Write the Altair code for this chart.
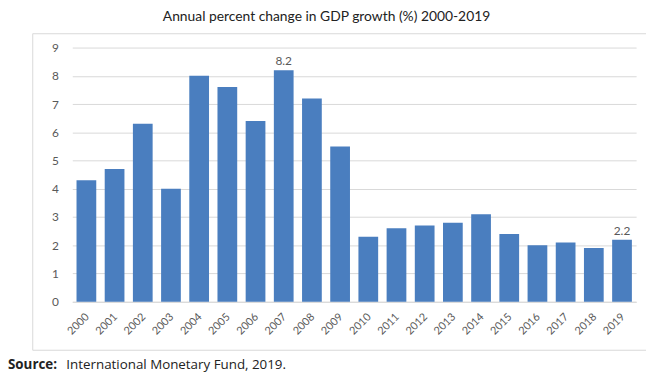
import altair as alt
import pandas as pd

years = [str(y) for y in range(2000, 2020)]
growth = [4.3, 4.7, 6.3, 4.0, 8.0, 7.6, 6.4, 8.2, 7.2, 5.5,
          2.3, 2.6, 2.7, 2.8, 3.1, 2.4, 2.0, 2.1, 1.9, 2.2]
labelled_years = ["2007", "2019"]
y_ticks = list(range(0, 10))
source_bold = "Source:"
source_text = "International Monetary Fund, 2019."
title_text = "Annual percent change in GDP growth (%) 2000-2019"

df = pd.DataFrame({"year": years, "growth": growth})
df["label"] = [f"{v:.1f}" if y in labelled_years else "" for y, v in zip(years, growth)]
one = pd.DataFrame({"k": [0]})

FONT = "Lato"
BLUE = "#4A7EBF"
W, H = 570, 257

x = alt.X("year:N", sort=years, title=None,
          scale=alt.Scale(paddingInner=0.3, paddingOuter=0.15),
          axis=alt.Axis(labelAngle=-45, labelFontSize=11, labelColor="#595959",
                        labelFont=FONT, ticks=False, domainColor="#d9d9d9",
                        labelPadding=9, labelOffset=-3))
y = alt.Y("growth:Q", title=None,
          scale=alt.Scale(domain=[0, 9], nice=False),
          axis=alt.Axis(values=y_ticks, labelFontSize=12, labelColor="#595959",
                        labelFont=FONT, ticks=False, domain=False,
                        gridColor="#d9d9d9", labelPadding=14))

frame = alt.Chart(one).mark_rect(fill="transparent", stroke="#d9d9d9", strokeWidth=1).encode(
    x=alt.value(-40), x2=alt.value(W + 40), y=alt.value(-14), y2=alt.value(H + 49)
)

bars = alt.Chart(df).mark_bar(color=BLUE).encode(x=x, y=y)

labels = alt.Chart(df).transform_filter(alt.datum.label != "").mark_text(
    dy=-9, fontSize=12, color="#595959", font=FONT
).encode(x=x, y=y, text="label:N")

src_bold = alt.Chart(one).mark_text(
    align="left", baseline="middle", fontSize=13.5, fontWeight="bold", color="#222222", font="Open Sans"
).encode(x=alt.value(-65), y=alt.value(H + 64), text=alt.value(source_bold))

src = alt.Chart(one).mark_text(
    align="left", baseline="middle", fontSize=13.5, color="#222222", font="Open Sans"
).encode(x=alt.value(-6), y=alt.value(H + 64), text=alt.value(source_text))

chart = alt.layer(frame, bars, labels, src_bold, src).properties(
    width=W, height=H,
    title=alt.TitleParams(title_text,
                          font=FONT, fontSize=14, fontWeight="normal", color="#222222",
                          anchor="middle", dx=-28, offset=9),
    autosize=alt.AutoSizeParams(type="none"),
    padding={"left": 65, "top": 38, "right": 10, "bottom": 70},
).configure_view(stroke=None)

chart.save("out.html", embed_options={"renderer": "svg", "actions": False})
